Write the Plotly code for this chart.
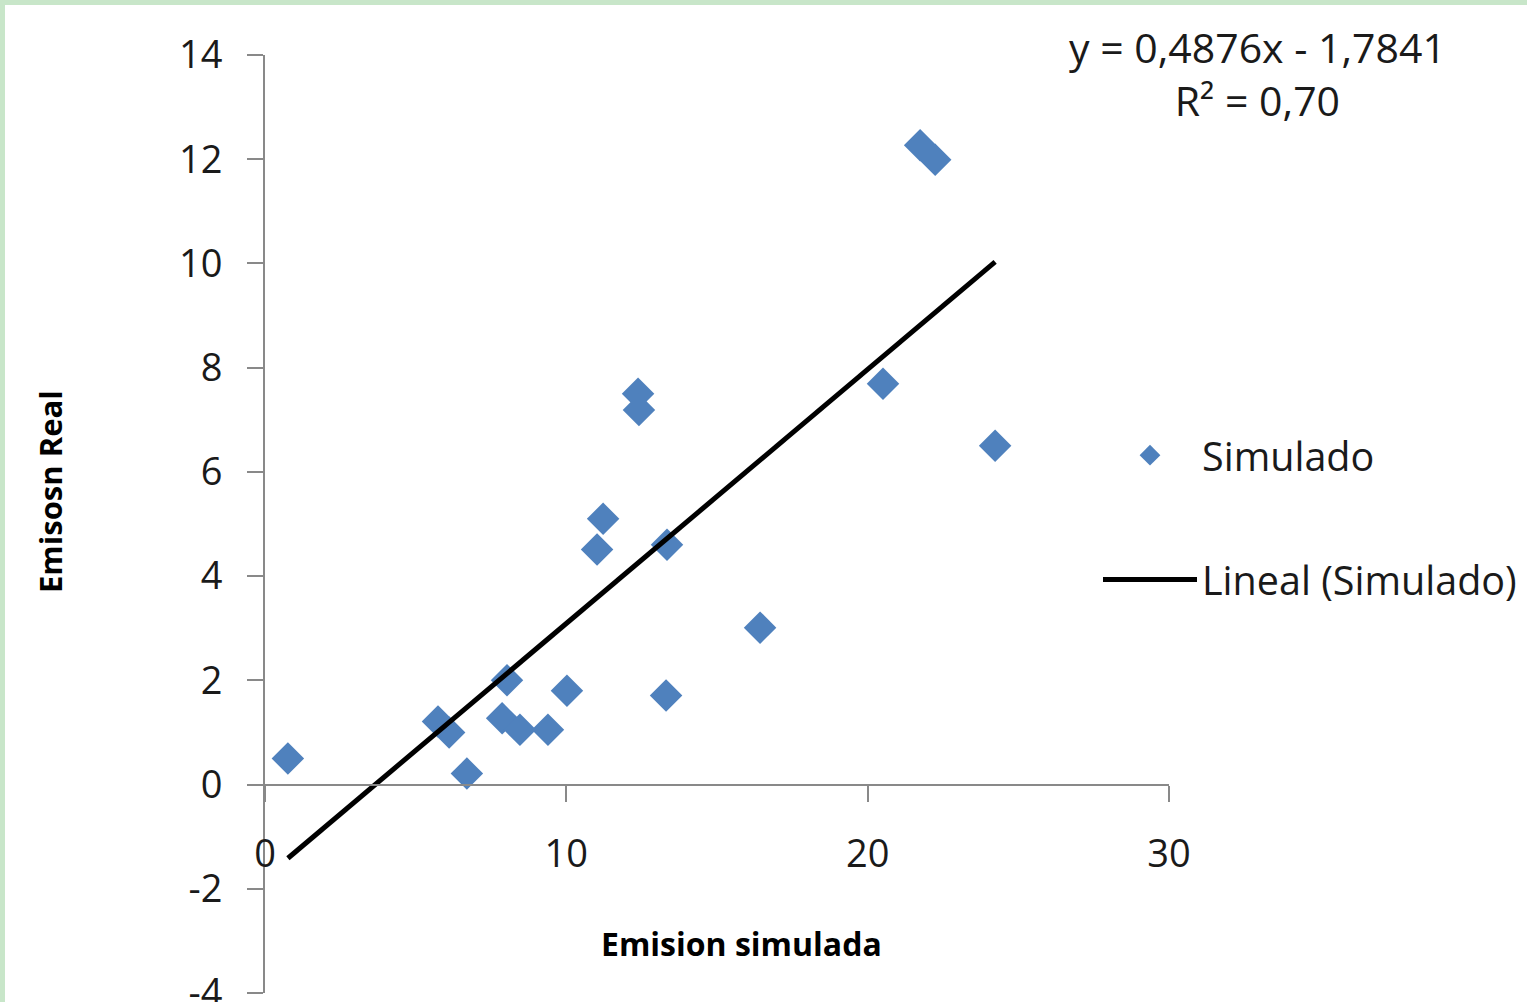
import plotly.graph_objects as go

# ---- data ----
emision_simulada = [0.76, 5.74, 6.11, 6.70, 7.87, 8.03, 8.46, 9.39, 10.02, 11.02,
                    11.22, 12.38, 12.41, 13.34, 13.31, 16.43, 20.51, 21.74, 22.24, 24.23]
emision_real = [0.50, 1.21, 1.00, 0.21, 1.27, 2.00, 1.05, 1.05, 1.80, 4.51,
                5.10, 7.50, 7.19, 4.60, 1.71, 3.01, 7.69, 12.27, 11.99, 6.50]
slope = 0.4876
intercept = -1.7841
r_squared = 0.70

x_range = [0, 30]
y_range = [-4, 14]
x_ticks = [0, 10, 20, 30]
y_ticks = [-4, -2, 0, 2, 4, 6, 8, 10, 12, 14]
y_tick_labels = ["-4", "-2", "0", "2", "4", "6", "8", "10", "12", "14"]
x_title = "Emision simulada"
y_title = "Emisosn Real"

FONT = "'Open Sans', sans-serif"
AXIS_GREY = "#898989"
TEXT = "#1a1a1a"

def fmt(v, d):
    return f"{v:.{d}f}".replace(".", ",")

trend_x = [min(emision_simulada), max(emision_simulada)]
trend_y = [slope * v + intercept for v in trend_x]

fig = go.Figure()
fig.add_trace(go.Scatter(
    x=emision_simulada, y=emision_real, mode="markers", name="Simulado",
    marker=dict(symbol="diamond", size=25, color="#4F81BD", line=dict(width=0)),
    legendgroup="a", cliponaxis=False,
))
fig.add_trace(go.Scatter(
    x=trend_x, y=trend_y, mode="lines", name="Lineal (Simulado)",
    line=dict(color="black", width=5), legendgroup="b", cliponaxis=False,
))

sign = "-" if intercept < 0 else "+"
eq_text = f"y = {fmt(slope, 4)}x {sign} {fmt(abs(intercept), 4)}<br>R² = {fmt(r_squared, 2)}"

W, H = 1527, 1002
L, R, T, B = 265, 358, 55, 9
pw, ph = W - L - R, H - T - B

def px_x(p):
    return (p - L) / pw

def px_y(p):
    return (H - B - p) / ph

fig.update_layout(
    width=W, height=H,
    margin=dict(l=L, r=R, t=T, b=B, autoexpand=False),
    paper_bgcolor="white", plot_bgcolor="white",
    font=dict(family=FONT, size=38, color=TEXT),
    xaxis=dict(
        range=x_range, tickvals=x_ticks, showgrid=False, zeroline=False,
        showline=True, linecolor=AXIS_GREY, linewidth=2,
        ticks="outside", ticklen=16, tickwidth=2, tickcolor=AXIS_GREY,
        anchor="free", position=(0 - y_range[0]) / (y_range[1] - y_range[0]),
        ticklabelstandoff=20, ticklabeloverflow="allow",
        tickfont=dict(size=38, color=TEXT),
    ),
    yaxis=dict(
        range=y_range, tickvals=y_ticks, ticktext=y_tick_labels,
        showgrid=False, zeroline=False,
        showline=True, linecolor=AXIS_GREY, linewidth=2,
        ticks="outside", ticklen=16, tickwidth=2, tickcolor=AXIS_GREY,
        ticklabelstandoff=17, ticklabeloverflow="allow",
        tickfont=dict(size=38, color=TEXT),
    ),
    legend=dict(
        x=px_x(1098), y=px_y(423), xanchor="left", yanchor="top",
        font=dict(size=39.5, color=TEXT), bgcolor="rgba(0,0,0,0)",
        tracegroupgap=70, itemwidth=94,
    ),
    annotations=[
        dict(text=eq_text, xref="paper", yref="paper",
             x=px_x(1257), y=px_y(73), xanchor="center", yanchor="middle",
             showarrow=False, align="center", font=dict(size=41, color=TEXT)),
        dict(text=f"<b>{x_title}</b>", xref="paper", yref="paper",
             x=px_x(741), y=px_y(943), xanchor="center", yanchor="middle",
             showarrow=False, font=dict(size=32, color="black")),
        dict(text=f"<b>{y_title}</b>", xref="paper", yref="paper", textangle=-90,
             x=px_x(50), y=px_y(492), xanchor="center", yanchor="middle",
             showarrow=False, font=dict(size=31, color="black")),
    ],
    shapes=[
        dict(type="rect", xref="paper", yref="paper", layer="below",
             x0=px_x(0), x1=px_x(5), y0=px_y(H), y1=px_y(0),
             fillcolor="#c8e6c9", line=dict(width=0)),
        dict(type="rect", xref="paper", yref="paper", layer="below",
             x0=px_x(0), x1=px_x(W), y0=px_y(5), y1=px_y(0),
             fillcolor="#c8e6c9", line=dict(width=0)),
    ],
    showlegend=True,
)

fig.write_html("out.html", config={"displayModeBar": False},
               post_script="document.body.style.margin='0px';")
